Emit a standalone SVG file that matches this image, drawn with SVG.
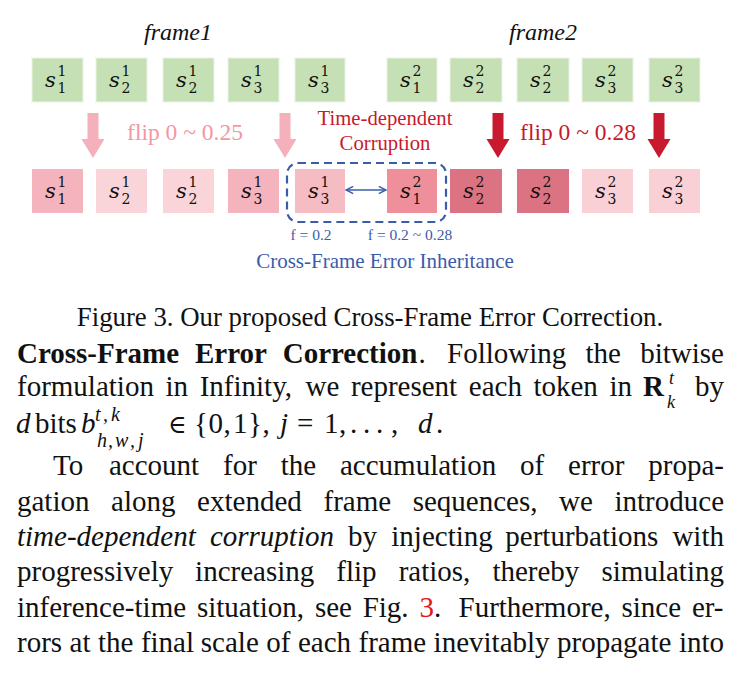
<svg xmlns="http://www.w3.org/2000/svg" width="740" height="677" viewBox="0 0 740 677">
<style>
.g{fill:#c5e0b4;stroke:#eaf4e3;stroke-width:1}
.p1{fill:#f4b3bd}.p2{fill:#f9d5da}.p3{fill:#f5bcc4}.p4{fill:#ef8f9b}.p5{fill:#dc7382}.p6{fill:#f9d0d6}
.s{font-family:"DejaVu Serif","Liberation Serif",serif;font-style:italic;font-size:21px;fill:#111}
.d{font-family:"DejaVu Serif","Liberation Serif",serif;font-size:14px;fill:#111;text-anchor:middle}
.fr{font-family:"Liberation Serif",serif;font-style:italic;font-size:24px;fill:#111;text-anchor:middle}
.pk{fill:#f4b1bb}.rd{fill:#c8192e}
.lbl{font-family:"Liberation Serif",serif;text-anchor:middle}
.body{font-family:"Liberation Serif","Times New Roman",serif;font-size:29px;fill:#111}
.cap{font-family:"Liberation Serif","Times New Roman",serif;font-size:26.8px;fill:#111}
.m{font-family:"Liberation Serif","DejaVu Serif",serif;fill:#111}
.i{font-style:italic}
</style>
<defs>
<marker id="ah" viewBox="0 0 10 10" refX="9" refY="5" markerWidth="9" markerHeight="9" orient="auto-start-reverse" markerUnits="userSpaceOnUse">
<path d="M1,1 L9,5 L1,9" fill="none" stroke="#3a5cab" stroke-width="1.6"/>
</marker>
</defs>
<rect width="740" height="677" fill="#fff"/>

<text class="fr" x="178" y="40">frame1</text>
<text class="fr" x="543" y="40">frame2</text>

<!-- top row -->
<g id="a1"><rect class="g" x="32" y="58" width="51" height="44"/><text class="s" x="45" y="87">s</text><text class="d" x="62" y="76">1</text><text class="d" x="62" y="93">1</text></g>
<g id="a2"><rect class="g" x="96" y="58" width="51" height="44"/><text class="s" x="109" y="87">s</text><text class="d" x="126" y="76">1</text><text class="d" x="126" y="93">2</text></g>
<g id="a3"><rect class="g" x="163" y="58" width="51" height="44"/><text class="s" x="176" y="87">s</text><text class="d" x="193" y="76">1</text><text class="d" x="193" y="93">2</text></g>
<g id="a4"><rect class="g" x="228" y="58" width="51" height="44"/><text class="s" x="241" y="87">s</text><text class="d" x="258" y="76">1</text><text class="d" x="258" y="93">3</text></g>
<g id="a5"><rect class="g" x="295" y="58" width="50" height="44"/><text class="s" x="308" y="87">s</text><text class="d" x="325" y="76">1</text><text class="d" x="325" y="93">3</text></g>
<g id="a6"><rect class="g" x="387" y="58" width="50" height="44"/><text class="s" x="400" y="87">s</text><text class="d" x="417" y="76">2</text><text class="d" x="417" y="93">1</text></g>
<g id="a7"><rect class="g" x="450" y="58" width="52" height="44"/><text class="s" x="463" y="87">s</text><text class="d" x="480" y="76">2</text><text class="d" x="480" y="93">2</text></g>
<g id="a8"><rect class="g" x="517" y="58" width="52" height="44"/><text class="s" x="530" y="87">s</text><text class="d" x="547" y="76">2</text><text class="d" x="547" y="93">2</text></g>
<g id="a9"><rect class="g" x="582" y="58" width="51" height="44"/><text class="s" x="595" y="87">s</text><text class="d" x="612" y="76">2</text><text class="d" x="612" y="93">3</text></g>
<g id="a10"><rect class="g" x="649" y="58" width="51" height="44"/><text class="s" x="662" y="87">s</text><text class="d" x="679" y="76">2</text><text class="d" x="679" y="93">3</text></g>

<!-- bottom row -->
<g id="b1"><rect class="p1" x="32" y="169" width="51" height="44"/><text class="s" x="45" y="198">s</text><text class="d" x="62" y="187">1</text><text class="d" x="62" y="204">1</text></g>
<g id="b2"><rect class="p2" x="96" y="169" width="51" height="44"/><text class="s" x="109" y="198">s</text><text class="d" x="126" y="187">1</text><text class="d" x="126" y="204">2</text></g>
<g id="b3"><rect class="p2" x="163" y="169" width="51" height="44"/><text class="s" x="176" y="198">s</text><text class="d" x="193" y="187">1</text><text class="d" x="193" y="204">2</text></g>
<g id="b4"><rect class="p1" x="228" y="169" width="51" height="44"/><text class="s" x="241" y="198">s</text><text class="d" x="258" y="187">1</text><text class="d" x="258" y="204">3</text></g>
<g id="b5"><rect class="p3" x="295" y="169" width="50" height="44"/><text class="s" x="308" y="198">s</text><text class="d" x="325" y="187">1</text><text class="d" x="325" y="204">3</text></g>
<g id="b6"><rect class="p4" x="387" y="169" width="50" height="44"/><text class="s" x="400" y="198">s</text><text class="d" x="417" y="187">2</text><text class="d" x="417" y="204">1</text></g>
<g id="b7"><rect class="p5" x="450" y="169" width="52" height="44"/><text class="s" x="463" y="198">s</text><text class="d" x="480" y="187">2</text><text class="d" x="480" y="204">2</text></g>
<g id="b8"><rect class="p5" x="517" y="169" width="52" height="44"/><text class="s" x="530" y="198">s</text><text class="d" x="547" y="187">2</text><text class="d" x="547" y="204">2</text></g>
<g id="b9"><rect class="p6" x="582" y="169" width="51" height="44"/><text class="s" x="595" y="198">s</text><text class="d" x="612" y="187">2</text><text class="d" x="612" y="204">3</text></g>
<g id="b10"><rect class="p6" x="649" y="169" width="51" height="44"/><text class="s" x="662" y="198">s</text><text class="d" x="679" y="187">2</text><text class="d" x="679" y="204">3</text></g>

<g id="inherit"><rect x="287" y="163" width="159" height="59" rx="11" fill="none" stroke="#3a5cab" stroke-width="2.2" stroke-dasharray="8 5"/></g>

<g id="connectors">
<polygon class="pk" points="87.5,113 98.5,113 98.5,139 104.5,139 93,158 81.5,139 87.5,139"/>
<polygon class="pk" points="279.5,113 290.5,113 290.5,139 296.5,139 285,158 273.5,139 279.5,139"/>
<polygon class="rd" points="492.5,113 503.5,113 503.5,139 509.5,139 498,158 486.5,139 492.5,139"/>
<polygon class="rd" points="653.5,113 664.5,113 664.5,139 670.5,139 659,158 647.5,139 653.5,139"/>
<line x1="346" y1="190" x2="386" y2="190" stroke="#3a5cab" stroke-width="1.6" marker-start="url(#ah)" marker-end="url(#ah)"/>
</g>

<g id="labels">
<text class="lbl" x="185" y="140" font-size="23.5" fill="#f297a3">flip 0 ~ 0.25</text>
<text class="lbl" x="578" y="140" font-size="23.5" fill="#c8192e">flip 0 ~ 0.28</text>
<text class="lbl" x="385" y="125" font-size="20.7" fill="#c8192e">Time-dependent</text>
<text class="lbl" x="385" y="150" font-size="20.7" fill="#c8192e">Corruption</text>
<text class="lbl" x="311" y="240" font-size="15.5" fill="#3a5cab">f = 0.2</text>
<text class="lbl" x="410" y="240" font-size="15.5" fill="#3a5cab">f = 0.2 ~ 0.28</text>
<text class="lbl" x="385" y="268" font-size="21" fill="#3a5cab">Cross-Frame Error Inheritance</text>
</g>

<text class="cap" x="370" y="326" text-anchor="middle">Figure 3. Our proposed Cross-Frame Error Correction.</text>

<text class="body" y="363" font-weight="bold"><tspan x="17">Cross-Frame</tspan><tspan x="195">Error</tspan><tspan x="282.7">Correction</tspan></text>
<text class="body" y="363"><tspan x="418.5">.</tspan><tspan x="447">Following</tspan><tspan x="585.5">the</tspan><tspan x="640.2">bitwise</tspan></text>

<text class="body" y="396"><tspan x="17">formulation</tspan><tspan x="165.5">in</tspan><tspan x="199.7">Infinity,</tspan><tspan x="305.5">we</tspan><tspan x="350.9">represent</tspan><tspan x="468.8">each</tspan><tspan x="533.4">token</tspan><tspan x="609.4">in</tspan></text>
<text class="body" x="643" y="396" font-weight="bold">R</text>
<text class="m i" x="669" y="384" font-size="18">t</text>
<text class="m i" x="667" y="408" font-size="18">k</text>
<text class="body" x="724" y="396" text-anchor="end">by</text>

<text class="m" font-size="29"><tspan class="i" x="16" y="433">d</tspan><tspan x="35" y="433">bits</tspan><tspan class="i" x="81" y="433">b</tspan><tspan class="i" x="95" y="421" font-size="20">t</tspan><tspan class="i" x="103" y="421" font-size="20">,</tspan><tspan class="i" x="111" y="421" font-size="20">k</tspan></text>
<text class="m" font-size="20"><tspan class="i" x="97" y="447">h</tspan><tspan class="i" x="108" y="447">,</tspan><tspan class="i" x="115" y="447">w</tspan><tspan class="i" x="130" y="447">,</tspan><tspan class="i" x="138" y="447">j</tspan></text>
<text class="m" font-size="29" y="433"><tspan x="168" font-size="25">∈</tspan><tspan x="194">{</tspan><tspan x="208.5">0</tspan><tspan x="223.5">,</tspan><tspan x="233">1</tspan><tspan x="248">}</tspan><tspan x="262.5">,</tspan><tspan class="i" x="280">j</tspan><tspan x="297">=</tspan><tspan x="324">1</tspan><tspan x="339">,</tspan><tspan x="350">.</tspan><tspan x="363">.</tspan><tspan x="376">.</tspan><tspan x="391">,</tspan><tspan class="i" x="418">d</tspan><tspan x="436">.</tspan></text>

<text class="body" y="475"><tspan x="53">To</tspan><tspan x="109">account</tspan><tspan x="223.1">for</tspan><tspan x="280.7">the</tspan><tspan x="340">accumulation</tspan><tspan x="520.1">of</tspan><tspan x="568.1">error</tspan><tspan x="648.3">propa-</tspan></text>
<text class="body" y="511"><tspan x="17">gation</tspan><tspan x="111.1">along</tspan><tspan x="197.1">extended</tspan><tspan x="323.5">frame</tspan><tspan x="412.7">sequences,</tspan><tspan x="559.1">we</tspan><tspan x="614.5">introduce</tspan></text>
<text class="body" y="546"><tspan class="i" x="17">time-dependent</tspan><tspan class="i" x="209.9">corruption</tspan><tspan x="348.1">by</tspan><tspan x="391.3">injecting</tspan><tspan x="505.3">perturbations</tspan><tspan x="672.4">with</tspan></text>
<text class="body" y="581"><tspan x="17">progressively</tspan><tspan x="195.1">increasing</tspan><tspan x="336.3">flip</tspan><tspan x="398.7">ratios,</tspan><tspan x="492.4">thereby</tspan><tspan x="601.5">simulating</tspan></text>
<text class="body" y="617"><tspan x="17">inference-time</tspan><tspan x="196.9">situation,</tspan><tspan x="314.9">see</tspan><tspan x="362.7">Fig.</tspan><tspan x="419.4" fill="#e8141c">3</tspan><tspan x="433.9">.</tspan><tspan x="458.5">Furthermore,</tspan><tspan x="621.5">since</tspan><tspan x="691.9">er-</tspan></text>
<text class="body" y="652"><tspan x="17">rors</tspan><tspan x="69.6">at</tspan><tspan x="98">the</tspan><tspan x="140.9">final</tspan><tspan x="200.8">scale</tspan><tspan x="266.3">of</tspan><tspan x="297.9">each</tspan><tspan x="358.5">frame</tspan><tspan x="433.6">inevitably</tspan><tspan x="557.1">propagate</tspan><tspan x="678.9">into</tspan></text>
</svg>
